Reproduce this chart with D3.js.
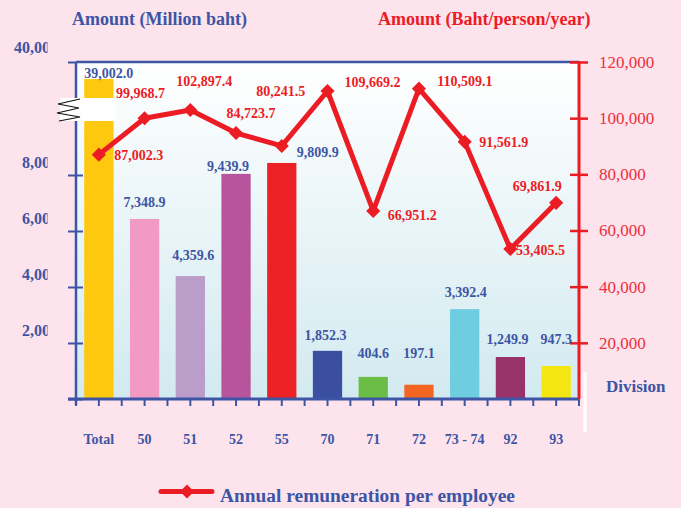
<!DOCTYPE html>
<html><head><meta charset="utf-8">
<script src="https://cdn.jsdelivr.net/npm/d3@7"></script>
<style>html,body{margin:0;padding:0;background:#fce3ec;} svg{display:block;}</style>
</head><body>
<svg id="chart" width="681" height="508"></svg>
<script>
// ---- data ----
const categories = ["Total","50","51","52","55","70","71","72","73 - 74","92","93"];
const barValues  = [39002, 6430, 4390, 8040, 8430, 1720, 790, 510, 3210, 1500, 1180];
const barLabels  = ["39,002.0","7,348.9","4,359.6","9,439.9","9,809.9","1,852.3","404.6","197.1","3,392.4","1,249.9","947.3"];
const lineValues = [87002.3, 99968.7, 102897.4, 94700, 90100, 109669.2, 66951.2, 110509.1, 91561.9, 53405.5, 69861.9];
const lineLabels = ["87,002.3","99,968.7","102,897.4","84,723.7","80,241.5","109,669.2","66,951.2","110,509.1","91,561.9","53,405.5","69,861.9"];
const leftTicks  = [0, 2000, 4000, 6000, 8000, 40000];
const rightTicks = [20000, 40000, 60000, 80000, 100000, 120000];
const seriesName = "Annual remuneration per employee";

// ---- styles / layout ----
const barColors = ["#fdc80d","#f19ac4","#bb9dca","#b8549c","#ec2227","#3a4fa0","#6bbd45","#f26522","#6ecde0","#98336a","#f4e611"];
const BLUE = "#3d55a4", RED = "#ec1c24";
const FONT = "'Liberation Serif','Times New Roman',serif";
const L = 76, R = 579, T = 62, B = 399;
const barLabelOff  = [[10,-6],[0,-17],[3,-21],[-8,-8],[36,-11],[-2,-16],[0,-24],[0,-32],[1,-17],[-3,-18],[0,-27]];
const lineLabelOff = [[40,0],[-4,-25],[14,-29],[15,-20],[-1,-55],[45,-9],[39,4],[46,-8],[39,0],[30,1],[-19,-17]];

const svg = d3.select("#chart");
const defs = svg.append("defs");
const grad = defs.append("linearGradient").attr("id","bg").attr("x1",0).attr("y1",0).attr("x2",0).attr("y2",1);
grad.append("stop").attr("offset","0%").attr("stop-color","#ffffff");
grad.append("stop").attr("offset","100%").attr("stop-color","#d2eaf0");
defs.append("clipPath").attr("id","lclip").append("rect").attr("x",0).attr("y",0).attr("width",47.5).attr("height",508);

const x = d3.scaleBand().domain(categories).range([L, R]).paddingInner(0.36).paddingOuter(0.18);
const yL = d3.scaleLinear().domain([0, 10000, 38000, 40000]).range([B, 119, 96, T]);
const yR = d3.scaleLinear().domain([0, 120000]).range([B, T]);

// plot background
svg.append("rect").attr("x",L).attr("y",T).attr("width",R-L).attr("height",B-T).attr("fill","url(#bg)");

// bars
svg.append("g").selectAll("rect").data(categories).join("rect")
  .attr("x", d => x(d)).attr("width", x.bandwidth())
  .attr("y", (d,i) => yL(barValues[i])).attr("height", (d,i) => B - yL(barValues[i]))
  .attr("fill", (d,i) => barColors[i]);

// top frame
svg.append("line").attr("x1",L).attr("x2",R).attr("y1",T).attr("y2",T).attr("stroke",BLUE).attr("stroke-width",2.5);

// left axis
const gL = svg.append("g").attr("transform",`translate(${L},0)`)
  .call(d3.axisLeft(yL).tickValues(leftTicks).tickSize(8).tickSizeOuter(0)
    .tickFormat(d => d === 0 ? "" : d3.format(",")(d)));
gL.select(".domain").remove();
gL.selectAll(".tick line").attr("stroke",BLUE).attr("stroke-width",2)
  .attr("x1", d => d === 40000 ? 0 : 7);
// tick labels, clipped at the left edge as in the source
const lblClip = svg.append("g").attr("clip-path","url(#lclip)");
gL.selectAll(".tick").each(function(d){
  const t = d3.select(this).select("text");
  lblClip.append("text").attr("x", L-18).attr("y", yL(d) - (d === 40000 ? 9 : 7)).attr("text-anchor","end")
    .attr("fill",BLUE).style("font-family",FONT).style("font-weight","bold").style("font-size","16px")
    .text(t.text());
  t.remove();
});
svg.append("line").attr("x1",L).attr("x2",L).attr("y1",T).attr("y2",B+6).attr("stroke",BLUE).attr("stroke-width",2.5);

// bottom axis
svg.append("line").attr("x1",L-8).attr("x2",R).attr("y1",B).attr("y2",B).attr("stroke",BLUE).attr("stroke-width",3);
const s = x.step();
const xt = categories.flatMap(c => { const b = x(c) + x.bandwidth()/2 - s/2; return [b, b + s/2]; }).concat([x.range()[1]]);
svg.append("g").selectAll("line").data(xt).join("line")
  .attr("x1", d => d).attr("x2", d => d).attr("y1", B).attr("y2", B+7)
  .attr("stroke",BLUE).attr("stroke-width",2);
svg.append("g").selectAll("text").data(categories).join("text")
  .attr("x", d => x(d) + x.bandwidth()/2).attr("y", 444).attr("text-anchor","middle")
  .attr("fill",BLUE).style("font-family",FONT).style("font-weight","bold").style("font-size","14px")
  .text(d => d);

// right axis
const gR = svg.append("g").attr("transform",`translate(${R},0)`)
  .call(d3.axisRight(yR).tickValues(rightTicks).tickSize(9).tickSizeOuter(0).tickFormat(d3.format(",")));
gR.select(".domain").remove();
gR.selectAll(".tick line").attr("x1",-9).attr("stroke",RED).attr("stroke-width",2.5);
gR.selectAll(".tick text").attr("x",20).attr("fill","#ee2f3d")
  .style("font-family",FONT).style("font-size","17px");
svg.append("line").attr("x1",R).attr("x2",R).attr("y1",T-1).attr("y2",B).attr("stroke",RED).attr("stroke-width",3);
svg.append("line").attr("x1",585).attr("x2",585).attr("y1",372).attr("y2",432).attr("stroke","#ffffff").attr("stroke-width",3);

// axis break
svg.append("rect").attr("x",60).attr("y",98).attr("width",56).attr("height",23).attr("fill","#ffffff");
svg.append("path").attr("d","M80,99 L58,104 L79,108 L57,113 L80,117 L59,121")
  .attr("fill","none").attr("stroke","#111").attr("stroke-width",1.2);

// line series
const px = (d,i) => x(categories[i]) + x.bandwidth()/2;
svg.append("path").datum(lineValues)
  .attr("d", d3.line().x(px).y(d => yR(d)))
  .attr("fill","none").attr("stroke",RED).attr("stroke-width",5).attr("stroke-linejoin","round");
svg.append("g").selectAll("rect").data(lineValues).join("rect")
  .attr("x",-5).attr("y",-5).attr("width",10).attr("height",10).attr("fill",RED)
  .attr("transform",(d,i) => `translate(${px(d,i)},${yR(d)}) rotate(45)`);

// bar labels
svg.append("g").selectAll("text").data(barLabels).join("text")
  .attr("x",(d,i) => x(categories[i]) + x.bandwidth()/2 + barLabelOff[i][0])
  .attr("y",(d,i) => yL(barValues[i]) + barLabelOff[i][1]).attr("dy","0.35em")
  .attr("text-anchor","middle").attr("fill",BLUE)
  .style("font-family",FONT).style("font-weight","bold").style("font-size","14px").text(d => d);

// line labels
svg.append("g").selectAll("text").data(lineLabels).join("text")
  .attr("x",(d,i) => px(lineValues[i], i) + lineLabelOff[i][0])
  .attr("y",(d,i) => yR(lineValues[i]) + lineLabelOff[i][1]).attr("dy","0.35em")
  .attr("text-anchor","middle").attr("fill",RED)
  .style("font-family",FONT).style("font-weight","bold").style("font-size","14px").text(d => d);

// titles
svg.append("text").attr("x",72).attr("y",25).attr("fill",BLUE)
  .style("font-family",FONT).style("font-weight","bold").style("font-size","18px").text("Amount (Million baht)");
svg.append("text").attr("x",378).attr("y",25).attr("fill",RED)
  .style("font-family",FONT).style("font-weight","bold").style("font-size","18px").text("Amount (Baht/person/year)");
svg.append("text").attr("x",606).attr("y",392).attr("fill",BLUE)
  .style("font-family",FONT).style("font-weight","bold").style("font-size","17px").text("Division");

// legend
svg.append("line").attr("x1",161).attr("x2",212).attr("y1",491.5).attr("y2",491.5)
  .attr("stroke",RED).attr("stroke-width",5).attr("stroke-linecap","round");
svg.append("rect").attr("x",-5).attr("y",-5).attr("width",10).attr("height",10).attr("fill",RED)
  .attr("transform","translate(187,491.5) rotate(45)");
svg.append("text").attr("x",220).attr("y",502).attr("fill",BLUE)
  .style("font-family",FONT).style("font-weight","bold").style("font-size","19.4px").text(seriesName);
</script>
</body></html>
